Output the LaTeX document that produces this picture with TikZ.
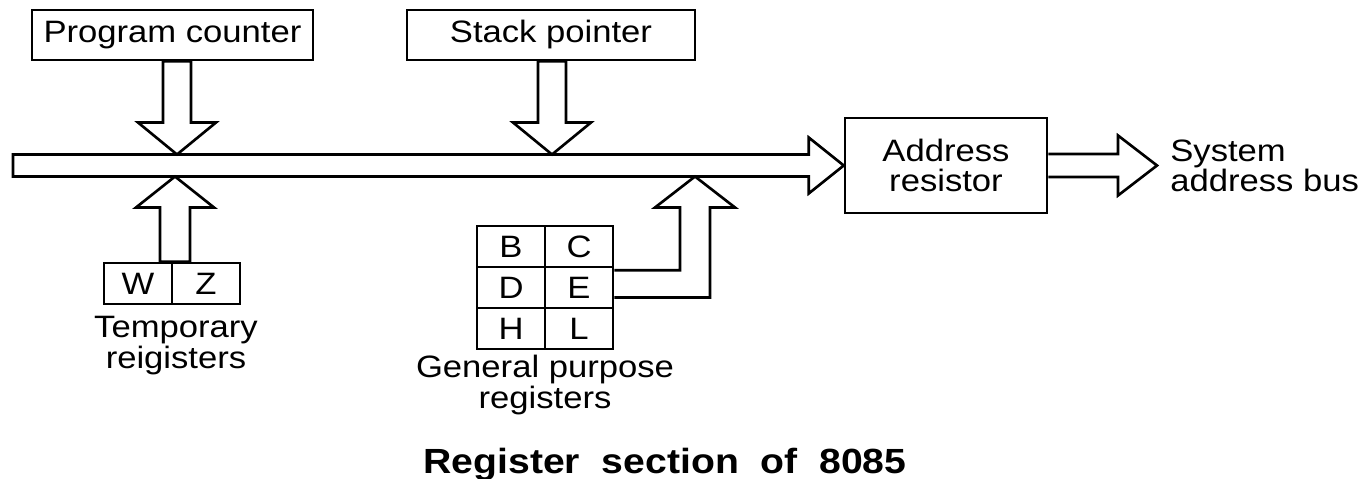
\documentclass[tikz,border=0pt]{standalone}
\usepackage{fontspec}
\setmainfont[FakeStretch=1.12]{Liberation Sans}
\usetikzlibrary{calc}

\tikzset{
  regbox/.style={draw, line width=1.5pt, fill=white, inner sep=0pt, align=center, font=\fontsize{17.6}{17.5}\selectfont},
  cellbox/.style={regbox, minimum width=1.36cm, minimum height=0.82cm},
  fatarrow/.style={draw, line width=1.5pt, line join=miter},
  lbl/.style={inner sep=0pt, font=\fontsize{17.6}{17.5}\selectfont},
}

\begin{document}
\begin{tikzpicture}[x=0.02cm, y=-0.02cm]
	 \useasboundingbox (0,0) rectangle (1368,479);

	 \node[regbox, minimum width=5.62cm, minimum height=1cm] (pc) at (172.5,35) {Program counter};
	 \node[regbox, minimum width=5.76cm, minimum height=1cm] (sp) at (551,35) {Stack pointer};
	 \node[regbox, minimum width=4.04cm, minimum height=1.9cm] (addr) at (946,165.5) {Address\\resistor};

	 % temporary registers
	 \node[cellbox] (W) at (138,283.5) {W};
	 \node[cellbox] (Z) at (206,283.5) {Z};

	 % general purpose registers
	 \foreach \name/\col/\row in {B/0/0, C/1/0, D/0/1, E/1/1, H/0/2, L/1/2}
	 \node[cellbox] (\name) at (511+68*\col, 246.5+41*\row) {\name};

	 % internal bus
	 \coordinate (busend) at (13,165.5);
	 \draw[fatarrow] (addr.west) -- ++(-35,-28) -- ++(0,17) -- ($(busend)+(0,-11)$) -- ($(busend)+(0,11)$) -- ($(addr.west)+(-35,11)$) -- ++(0,17) -- cycle;

	 \coordinate (pcin) at (177,154.5);
	 \draw[fatarrow] (pcin) -- ++(-39,-32) -- ++(25,0) -- ($(pcin |- pc.south)+(-14,0)$) -- ++(28,0) -- ($(pcin)+(14,-32)$) -- ++(25,0) -- cycle;

	 \coordinate (spin) at (552,154.5);
	 \draw[fatarrow] (spin) -- ++(-39,-32) -- ++(25,0) -- ($(spin |- sp.south)+(-14,0)$) -- ++(28,0) -- ($(spin)+(14,-32)$) -- ++(25,0) -- cycle;

	 \coordinate (tmpout) at (175,176.5);
	 \draw[fatarrow] (tmpout) -- ++(-39,31) -- ++(24,0) -- ($(tmpout |- W.north)+(-15,0)$) -- ++(30,0) -- ($(tmpout)+(15,31)$) -- ++(24,0) -- cycle;

	 \coordinate (gpout) at (695,176.5);
	 \draw[fatarrow] ($(C.south east)+(0,2)$) -- ($(gpout |- C.south east)+(-15,2)$) -- ($(gpout)+(-15,31)$) -- ++(-25,0) -- (gpout) -- ++(40,31) -- ++(-25,0) -- ($(gpout |- E.east)+(15,10)$) -- ($(E.east)+(0,10)$);

	 % address bus out
	 \coordinate (busout) at (1157,165.5);
	 \draw[fatarrow] ($(addr.east)+(0,-11.5)$) -- ($(busout)+(-39,-11.5)$) -- ++(0,-18.5) -- (busout) -- ++(-39,30) -- ++(0,-18.5) -- ($(addr.east)+(0,11.5)$);

	 \node[lbl, align=center, anchor=base] (tmplbl) at (176,368) {Temporary\\reigisters};
	 \node[lbl, align=center, anchor=base] (gplbl) at (545,408) {General purpose\\registers};
	 \node[lbl, align=left, anchor=base west] (sysbus) at (1170,192) {System\\address bus};

	 \node[inner sep=0pt, font=\bfseries\fontsize{19.9}{22}\selectfont, anchor=base] (title) at (665,473) {Register\ \ section\ \ of\ \ 8085};
\end{tikzpicture}
\end{document}
